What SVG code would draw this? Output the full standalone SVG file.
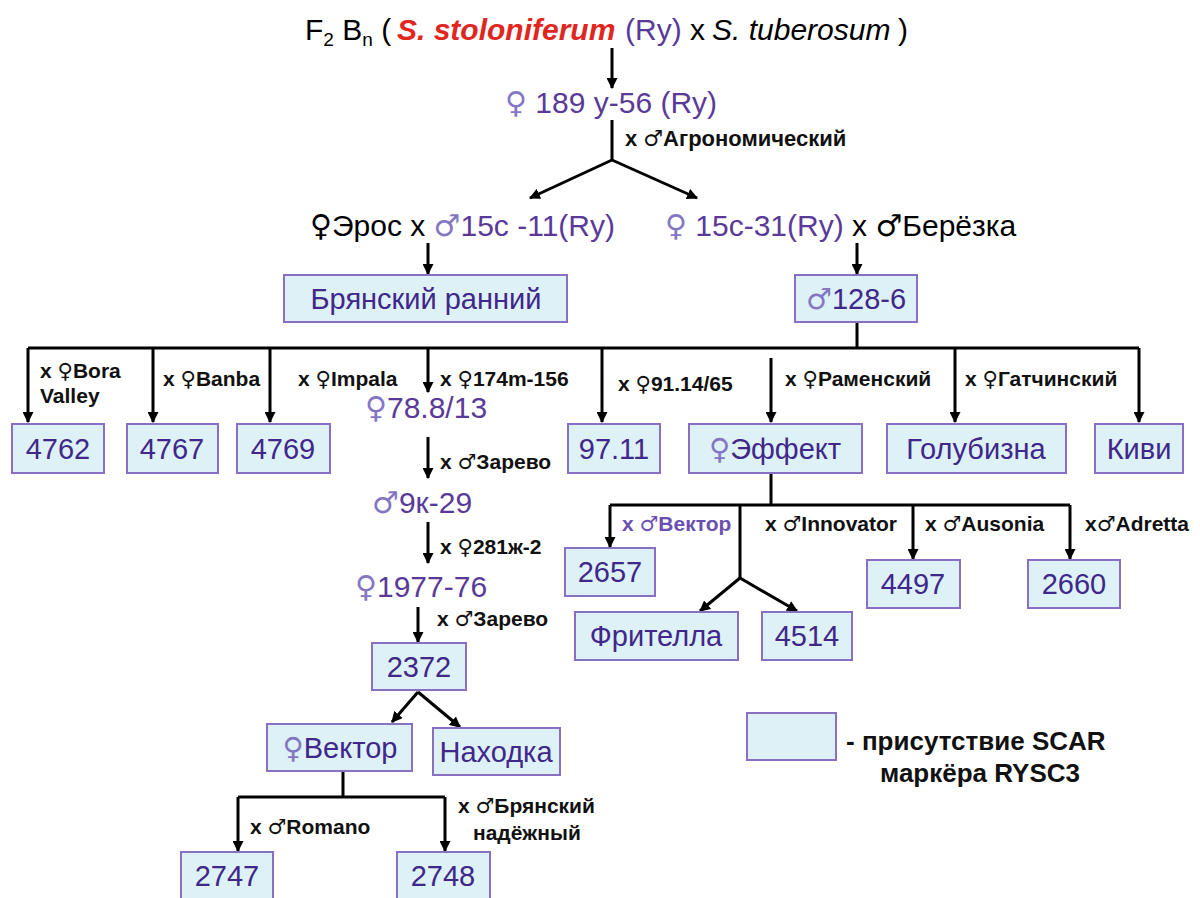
<svg xmlns="http://www.w3.org/2000/svg" width="1200" height="898" viewBox="0 0 1200 898">
<style>
text{font-family:"Liberation Sans","DejaVu Sans",sans-serif}
.t{font-size:30px;fill:#000}
.p{fill:#5a3a98}
.s{fill:#8576c4}
.red{fill:#e0261f;font-weight:bold;font-style:italic}
.sym{font-family:"DejaVu Sans",sans-serif}
.lb{font-size:21px;font-weight:bold;fill:#111}
.lg{font-size:26px;font-weight:bold;fill:#111}
.bx{fill:#ddf1f6;stroke:#8a70c2;stroke-width:2}
.bt{font-size:29px;fill:#40278a;text-anchor:middle}
.c{stroke:#000;stroke-width:3;fill:none}
</style>
<defs>
<marker id="ah" viewBox="0 0 10 10" refX="9" refY="5" markerUnits="userSpaceOnUse" markerWidth="11" markerHeight="11" orient="auto"><path d="M0,0 L10,5 L0,10 z" fill="#000"/></marker>
</defs>
<rect width="1200" height="898" fill="#fff"/>

<g id="connectors">
<path class="c" d="M612,48 V88" marker-end="url(#ah)"/>
<path class="c" d="M612,120 V160"/>
<path class="c" d="M612,160 L530,198" marker-end="url(#ah)"/>
<path class="c" d="M612,160 L697,198" marker-end="url(#ah)"/>
<path class="c" d="M428,243 V274" marker-end="url(#ah)"/>
<path class="c" d="M857,243 V274" marker-end="url(#ah)"/>
<path class="c" d="M857,322 V348"/>
<path class="c" d="M28,348 H1139"/>
<path class="c" d="M28,348 V422" marker-end="url(#ah)"/>
<path class="c" d="M153,348 V422" marker-end="url(#ah)"/>
<path class="c" d="M270,348 V422" marker-end="url(#ah)"/>
<path class="c" d="M428,348 V392" marker-end="url(#ah)"/>
<path class="c" d="M602,348 V422" marker-end="url(#ah)"/>
<path class="c" d="M771,358 V422" marker-end="url(#ah)"/>
<path class="c" d="M955,348 V422" marker-end="url(#ah)"/>
<path class="c" d="M1139,348 V422" marker-end="url(#ah)"/>
<path class="c" d="M428,437 V478" marker-end="url(#ah)"/>
<path class="c" d="M428,522 V563" marker-end="url(#ah)"/>
<path class="c" d="M418,607 V642" marker-end="url(#ah)"/>
<path class="c" d="M418,692 L392,722" marker-end="url(#ah)"/>
<path class="c" d="M418,692 L460,727" marker-end="url(#ah)"/>
<path class="c" d="M771,473 V505"/>
<path class="c" d="M610,505 H1070"/>
<path class="c" d="M610,505 V547" marker-end="url(#ah)"/>
<path class="c" d="M740,505 V578"/>
<path class="c" d="M740,578 L700,611" marker-end="url(#ah)"/>
<path class="c" d="M740,578 L797,611" marker-end="url(#ah)"/>
<path class="c" d="M913,505 V559" marker-end="url(#ah)"/>
<path class="c" d="M1070,505 V559" marker-end="url(#ah)"/>
<path class="c" d="M343,771 V797"/>
<path class="c" d="M238,797 H445"/>
<path class="c" d="M238,797 V851" marker-end="url(#ah)"/>
<path class="c" d="M445,797 V851" marker-end="url(#ah)"/>
</g>

<g id="title">
<text class="t" x="305" y="40">F<tspan font-size="19" dy="6">2</tspan><tspan dy="-6"> B</tspan><tspan font-size="19" dy="6">n</tspan><tspan dy="-6"> (</tspan></text>
<text class="t red" x="397" y="40">S. stoloniferum</text>
<text class="t p" x="625" y="40">(Ry)</text>
<text class="t" x="690" y="40">x</text>
<text class="t" x="712" y="40" font-style="italic">S. tuberosum</text>
<text class="t" x="898" y="40">)</text>
</g>

<g id="n189">
<text class="t p" x="505" y="113"><tspan class="s sym">♀</tspan> 189 y-56 (Ry)</text>
</g>
<g id="cross1"><text class="lb" x="625" y="146" style="font-size:22px">x <tspan class="sym">♂</tspan>Агрономический</text></g>

<g id="eros">
<text class="t" x="310" y="236"><tspan class="sym">♀</tspan>Эрос x <tspan class="s sym">♂</tspan><tspan class="p">15с -11(Ry)</tspan></text>
</g>
<g id="n15c31">
<text class="t" x="665" y="236"><tspan class="s sym">♀</tspan><tspan class="p"> 15с-31(Ry)</tspan> x <tspan class="sym">♂</tspan>Берёзка</text>
</g>

<g id="bryansk"><rect class="bx" x="284" y="275" width="283" height="47"/><text class="bt" x="426" y="309">Брянский ранний</text></g>
<g id="n1286"><rect class="bx" x="795" y="275" width="122" height="47"/><text class="bt" x="856" y="309"><tspan class="sym" fill="#8576c4">♂</tspan>128-6</text></g>

<g id="lab_row1">
<text class="lb" x="40" y="378">x <tspan class="sym">♀</tspan>Bora</text>
<text class="lb" x="40" y="403">Valley</text>
<text class="lb" x="163" y="386">x <tspan class="sym">♀</tspan>Banba</text>
<text class="lb" x="298" y="386">x <tspan class="sym">♀</tspan>Impala</text>
<text class="lb" x="440" y="386">x <tspan class="sym">♀</tspan>174m-156</text>
<text class="lb" x="618" y="391">x <tspan class="sym">♀</tspan>91.14/65</text>
<text class="lb" x="785" y="386">x <tspan class="sym">♀</tspan>Раменский</text>
<text class="lb" x="965" y="386">x <tspan class="sym">♀</tspan>Гатчинский</text>
</g>

<g id="b4762"><rect class="bx" x="12" y="424" width="92" height="49"/><text class="bt" x="58" y="459">4762</text></g>
<g id="b4767"><rect class="bx" x="127" y="424" width="91" height="49"/><text class="bt" x="172" y="459">4767</text></g>
<g id="b4769"><rect class="bx" x="237" y="424" width="93" height="49"/><text class="bt" x="283" y="459">4769</text></g>
<g id="n788"><text class="t p" x="365" y="418"><tspan class="s sym">♀</tspan>78.8/13</text></g>
<g id="b9711"><rect class="bx" x="568" y="424" width="92" height="49"/><text class="bt" x="614" y="459">97.11</text></g>
<g id="effekt"><rect class="bx" x="689" y="424" width="173" height="49"/><text class="bt" x="775" y="459"><tspan class="sym" fill="#8576c4">♀</tspan>Эффект</text></g>
<g id="golub"><rect class="bx" x="887" y="424" width="179" height="49"/><text class="bt" x="976" y="459">Голубизна</text></g>
<g id="kivi"><rect class="bx" x="1095" y="424" width="88" height="49"/><text class="bt" x="1139" y="459">Киви</text></g>

<g id="chain">
<text class="lb" x="440" y="469">x <tspan class="sym">♂</tspan>Зарево</text>
<text class="t p" x="372" y="513"><tspan class="s sym">♂</tspan>9к-29</text>
<text class="lb" x="440" y="554">x <tspan class="sym">♀</tspan>281ж-2</text>
<text class="t p" x="355" y="597"><tspan class="s sym">♀</tspan>1977-76</text>
<text class="lb" x="437" y="626">x <tspan class="sym">♂</tspan>Зарево</text>
</g>
<g id="b2372"><rect class="bx" x="372" y="643" width="94" height="47"/><text class="bt" x="419" y="677">2372</text></g>
<g id="vektor"><rect class="bx" x="267" y="724" width="145" height="47"/><text class="bt" x="340" y="758"><tspan class="sym" fill="#8576c4">♀</tspan>Вектор</text></g>
<g id="nahodka"><rect class="bx" x="433" y="728" width="127" height="47"/><text class="bt" x="496" y="762">Находка</text></g>
<g id="lab_bottom">
<text class="lb" x="250" y="834">x <tspan class="sym">♂</tspan>Romano</text>
<text class="lb" x="458" y="813">x <tspan class="sym">♂</tspan>Брянский</text>
<text class="lb" x="473" y="840">надёжный</text>
</g>
<g id="b2747"><rect class="bx" x="181" y="852" width="92" height="48"/><text class="bt" x="227" y="886">2747</text></g>
<g id="b2748"><rect class="bx" x="397" y="852" width="93" height="48"/><text class="bt" x="443" y="886">2748</text></g>

<g id="lab_effekt">
<text class="lb" x="622" y="531" style="fill:#6a50b0">x <tspan class="sym">♂</tspan>Вектор</text>
<text class="lb" x="765" y="531">x <tspan class="sym">♂</tspan>Innovator</text>
<text class="lb" x="925" y="531">x <tspan class="sym">♂</tspan>Ausonia</text>
<text class="lb" x="1085" y="531">x<tspan class="sym">♂</tspan>Adretta</text>
</g>
<g id="b2657"><rect class="bx" x="565" y="548" width="90" height="48"/><text class="bt" x="610" y="582">2657</text></g>
<g id="fritella"><rect class="bx" x="575" y="612" width="163" height="48"/><text class="bt" x="656" y="646">Фрителла</text></g>
<g id="b4514"><rect class="bx" x="762" y="612" width="90" height="48"/><text class="bt" x="807" y="646">4514</text></g>
<g id="b4497"><rect class="bx" x="867" y="560" width="93" height="48"/><text class="bt" x="913" y="594">4497</text></g>
<g id="b2660"><rect class="bx" x="1028" y="560" width="92" height="48"/><text class="bt" x="1074" y="594">2660</text></g>

<g id="legend">
<rect class="bx" x="747" y="713" width="89" height="47"/>
<text class="lg" x="846" y="750">- присутствие SCAR</text>
<text class="lg" x="880" y="782">маркёра RYSC3</text>
</g>
</svg>
